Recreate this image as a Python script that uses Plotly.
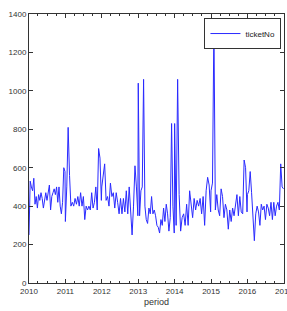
import pandas as pd
import plotly.graph_objects as go

# values read per year (approximately bi-weekly samples)
v2010 = [250, 530, 500, 480, 545, 410, 450, 390, 460, 430, 470, 440, 390, 440, 470, 430,
         470, 510, 380, 450, 470, 490, 460, 500, 420, 500, 400, 360, 420, 600, 580]
v2011 = [320, 500, 810, 560, 400, 420, 400, 440, 410, 450, 400, 470, 400, 450, 330, 400,
         380, 400, 380, 470, 390, 420, 500, 380, 700, 650, 430]
v2012 = [500, 560, 620, 430, 450, 400, 520, 450, 470, 390, 470, 420, 360, 440, 360, 440,
         370, 480, 360, 500, 380, 250, 400, 610, 500, 350]
v2013 = [1040, 350, 480, 500, 1060, 400, 330, 310, 390, 360, 450, 360, 380, 350, 300, 290,
         260, 330, 300, 390, 320, 410, 360, 270, 340, 830, 400, 260]
v2014 = [830, 300, 1060, 460, 270, 340, 360, 300, 410, 300, 480, 400, 340, 440, 380, 430,
         400, 440, 360, 450, 300, 480, 550, 510, 370]
v2015 = [480, 520, 1340, 380, 460, 380, 350, 490, 450, 340, 410, 380, 280, 380, 320, 390,
         350, 400, 460, 350, 450, 370, 360, 640, 600, 370]
v2016 = [460, 480, 580, 470, 360, 220, 360, 400, 370, 300, 410, 380, 400, 330, 410, 390,
         350, 420, 330, 420, 350, 400, 420, 380, 620, 500, 490]

years = [2010, 2011, 2012, 2013, 2014, 2015, 2016]
yearly = [v2010, v2011, v2012, v2013, v2014, v2015, v2016]

dates = []
values = []
for yr, vals in zip(years, yearly):
    d = pd.date_range(f"{yr}-01-01", f"{yr}-12-28", periods=len(vals))
    dates.extend(list(d))
    values.extend(vals)

x_ticks = ["2010", "2011", "2012", "2013", "2014", "2015", "2016", "2017"]
y_ticks = [0, 200, 400, 600, 800, 1000, 1200, 1400]

fig = go.Figure()
fig.add_trace(go.Scatter(x=dates, y=values, mode="lines", name="ticketNo",
                         line=dict(color="#2a2aff", width=1)))

font = dict(family="Liberation Sans, Arial, sans-serif", size=8, color="#333333")
fig.update_layout(
    width=287, height=311,
    margin=dict(l=29, r=3, t=14, b=28, autoexpand=False),
    paper_bgcolor="white", plot_bgcolor="white",
    font=font,
    showlegend=True,
    legend=dict(x=0.99, y=0.985, xanchor="right", yanchor="top",
                bordercolor="#333333", borderwidth=1, bgcolor="white",
                font=dict(family="Liberation Sans, Arial, sans-serif", size=8, color="#222222"),
                itemwidth=30, tracegroupgap=0),
    xaxis=dict(
        range=["2010-01-01", "2017-01-02"],
        tickvals=[f"{y}-01-01" for y in x_ticks], ticktext=x_ticks,
        ticks="inside", ticklen=4, tickcolor="#333333",
        showline=True, linecolor="#333333", linewidth=1, mirror="ticks",
        showgrid=False, zeroline=False, automargin=False,
        ticklabeloverflow="allow",
        minor=dict(ticks="inside", ticklen=2, dtick="M3", tickcolor="#333333", showgrid=False),
        title=dict(text="period", font=dict(size=9, color="#333333"), standoff=4),
        tickfont=dict(size=8),
    ),
    yaxis=dict(
        range=[0, 1400],
        tickvals=y_ticks,
        ticks="inside", ticklen=4, tickcolor="#333333",
        showline=True, linecolor="#333333", linewidth=1, mirror="ticks",
        showgrid=False, zeroline=False, automargin=False,
        ticklabeloverflow="allow",
        tickfont=dict(size=8),
    ),
)

fig.write_html("out.html",
               config={"displayModeBar": False},
               post_script="document.body.style.margin='0';document.body.style.overflow='hidden';")
